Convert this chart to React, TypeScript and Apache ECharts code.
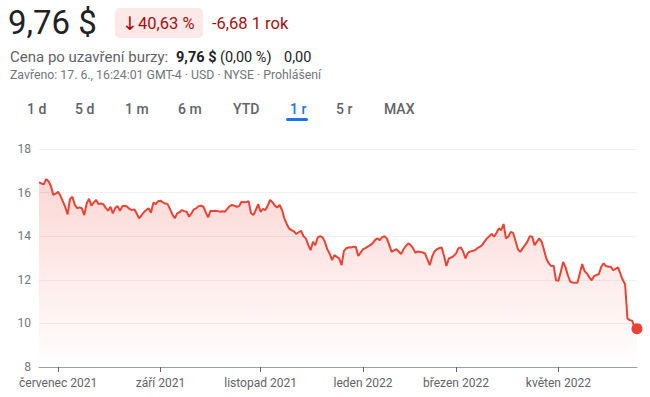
import React, { useEffect, useRef } from "react";
import * as echarts from "echarts";

// Daily closing prices, one array per month (trading days)
const jun2021 = [16.47, 16.42, 16.38, 16.62, 16.52, 16.3, 15.89, 15.95];
const jul2021 = [16.04, 15.85, 15.6, 15.35, 15.0, 15.7, 15.81, 15.45, 15.28, 15.32, 15.28, 14.97, 15.5, 15.72, 15.4, 15.55, 15.66, 15.47, 15.5, 15.47, 15.3];
const aug2021 = [15.17, 15.35, 15.05, 15.3, 15.38, 15.17, 15.38, 15.4, 15.35, 15.25, 15.2, 15.23, 15.05, 14.82, 14.95, 15.1, 15.2, 15.28, 15.08, 15.54, 15.47, 15.6];
const sep2021 = [15.63, 15.55, 15.5, 15.47, 15.25, 15.0, 14.82, 15.05, 15.1, 15.2, 15.15, 15.12, 14.89, 15.05, 15.23, 15.28, 15.38, 15.4, 15.35, 15.1, 14.86];
const oct2021 = [15.17, 15.15, 15.17, 15.15, 15.12, 15.14, 15.12, 15.25, 15.38, 15.43, 15.4, 15.35, 15.38, 15.58, 15.56, 15.57, 15.6, 15.05, 14.97, 15.2, 15.47];
const nov2021 = [15.12, 15.25, 15.2, 15.4, 15.66, 15.56, 15.4, 15.32, 15.43, 15.2, 14.82, 14.55, 14.35, 14.28, 14.22, 14.1, 14.18, 14.25, 14.0, 13.9, 13.6];
const dec2021 = [13.36, 13.74, 13.59, 13.95, 14.0, 13.95, 13.74, 13.4, 13.21, 12.9, 13.13, 13.05, 12.98, 12.67, 13.33, 13.45, 13.49, 13.48, 13.52, 13.51, 13.09, 13.25];
const jan2022 = [13.4, 13.45, 13.52, 13.59, 13.67, 13.82, 13.9, 13.82, 13.95, 14.0, 13.9, 13.6, 13.28, 13.35, 13.4, 13.3, 13.18, 13.4, 13.55, 13.67];
const feb2022 = [13.59, 13.45, 13.24, 13.3, 13.28, 13.25, 13.21, 12.95, 12.67, 13.06, 13.3, 13.4, 13.45, 13.49, 13.1, 12.63, 12.98, 13.02, 13.09];
const mar2022 = [13.2, 13.44, 13.49, 13.3, 12.98, 13.24, 13.3, 13.32, 13.36, 13.45, 13.51, 13.6, 13.75, 13.9, 14.0, 14.1, 13.98, 14.15, 14.36, 14.28, 14.56, 13.9, 13.98];
const apr2022 = [14.2, 14.15, 13.79, 13.4, 13.28, 13.44, 13.59, 13.75, 14.0, 13.98, 13.59, 13.75, 13.9, 13.74, 13.36, 12.95, 12.75, 12.63, 12.65, 11.98];
const may2022 = [11.95, 12.36, 12.82, 12.57, 12.2, 11.91, 11.88, 11.86, 11.86, 12.29, 12.72, 12.4, 12.29, 12.1, 11.98, 12.17, 12.22, 12.26, 12.6, 12.75, 12.63];
const jun2022 = [12.6, 12.6, 12.44, 12.5, 12.57, 12.29, 12.0, 11.8, 10.22, 10.15, 10.12, 9.8, 9.76];

const months: [string, number[]][] = [
  ["2021-06", jun2021], ["2021-07", jul2021], ["2021-08", aug2021], ["2021-09", sep2021],
  ["2021-10", oct2021], ["2021-11", nov2021], ["2021-12", dec2021], ["2022-01", jan2022],
  ["2022-02", feb2022], ["2022-03", mar2022], ["2022-04", apr2022], ["2022-05", may2022],
  ["2022-06", jun2022],
];

const tickLabels: Record<string, string> = {
  "2021-07": "červenec 2021",
  "2021-09": "září 2021",
  "2021-11": "listopad 2021",
  "2022-01": "leden 2022",
  "2022-03": "březen 2022",
  "2022-05": "květen 2022",
};

const yTicks = { min: 8, max: 18, interval: 2 };

const ranges = ["1 d", "5 d", "1 m", "6 m", "YTD", "1 r", "5 r", "MAX"];
const rangeX = [27, 75, 125, 178, 233, 290, 336, 384];

const FONT = "Roboto, 'Noto Sans', sans-serif";

export default function App() {
  const ref = useRef<HTMLDivElement>(null);
  useEffect(() => {
    if (!ref.current) return;
    const chart = echarts.init(ref.current, undefined, { renderer: "svg" });

    const categories: string[] = [];
    const values: number[] = [];
    months.forEach(([key, arr]) => {
      arr.forEach((v, k) => {
        categories.push(`${key}|${k}`);
        values.push(v);
      });
    });
    const isTick = (_i: number, val: string) => {
      const [key, k] = String(val).split("|");
      return k === "0" && tickLabels[key] !== undefined;
    };
    const lastIdx = values.length - 1;

    const graphics: any[] = [
      { type: "text", left: 8, top: 6, style: { text: "9,76 $", fontSize: 33, fontFamily: FONT, fill: "#202124" } },
      { type: "rect", shape: { x: 115, y: 8, width: 88, height: 30, r: 5 }, style: { fill: "#fce8e6" } },
      { type: "text", x: 122, y: 23, style: { text: "↓", fontSize: 19, fontFamily: "'DejaVu Sans', sans-serif", fill: "#a50e0e", verticalAlign: "middle" } },
      { type: "text", x: 138, y: 23, style: { text: "40,63 %", fontSize: 16.5, fontFamily: FONT, fill: "#a50e0e", verticalAlign: "middle" } },
      { type: "text", x: 212, y: 23, style: { text: "-6,68 1 rok", fontSize: 16.5, fontFamily: FONT, fill: "#a50e0e", verticalAlign: "middle" } },
      { type: "text", x: 10, y: 57, style: { text: "Cena po uzavření burzy:", fontSize: 15, fontFamily: FONT, fill: "#5f6368", verticalAlign: "middle" } },
      { type: "text", x: 176, y: 57, style: { text: "9,76 $", fontSize: 14.5, fontWeight: "bold", fontFamily: FONT, fill: "#202124", verticalAlign: "middle" } },
      { type: "text", x: 220, y: 57, style: { text: "(0,00 %)", fontSize: 14.5, fontFamily: FONT, fill: "#202124", verticalAlign: "middle" } },
      { type: "text", x: 284, y: 57, style: { text: "0,00", fontSize: 14.5, fontFamily: FONT, fill: "#202124", verticalAlign: "middle" } },
      { type: "text", x: 10, y: 75, style: { text: "Zavřeno: 17. 6., 16:24:01 GMT-4 · USD · NYSE · Prohlášení", fontSize: 12.3, fontFamily: FONT, fill: "#70757a", verticalAlign: "middle" } },
      { type: "rect", shape: { x: 286, y: 118, width: 22, height: 3, r: 1.5 }, style: { fill: "#1a73e8" } },
    ];
    ranges.forEach((r, i) => {
      graphics.push({
        type: "text", x: rangeX[i], y: 109,
        style: { text: r, fontSize: 14, fontWeight: 500, fontFamily: FONT, fill: r === "1 r" ? "#1a73e8" : "#5f6368", verticalAlign: "middle" },
      });
    });

    chart.setOption({
      animation: false,
      graphic: graphics,
      grid: { left: 39, right: 13, top: 149, bottom: 30 },
      xAxis: {
        type: "category",
        data: categories,
        boundaryGap: false,
        axisLine: { show: true, lineStyle: { color: "#9aa0a6", width: 1 } },
        axisTick: { show: true, interval: isTick, length: 5, lineStyle: { color: "#5f6368", width: 1 } },
        axisLabel: {
          interval: isTick,
          margin: 10,
          fontSize: 12,
          fontFamily: FONT,
          color: "#5f6368",
          formatter: (val: string) => tickLabels[String(val).split("|")[0]] || "",
        },
        splitLine: { show: false },
      },
      yAxis: {
        type: "value",
        min: yTicks.min,
        max: yTicks.max,
        interval: yTicks.interval,
        axisLine: { show: false },
        axisTick: { show: false },
        axisLabel: { fontSize: 12, fontFamily: FONT, color: "#70757a", margin: 8 },
        splitLine: { lineStyle: { color: "#eef0f1", width: 1 } },
      },
      series: [
        {
          type: "line",
          data: values,
          showSymbol: false,
          symbol: "none",
          lineStyle: { color: "#ea4335", width: 2 },
          areaStyle: {
            origin: "start",
            color: new echarts.graphic.LinearGradient(0, 0, 0, 1, [
              { offset: 0, color: "rgba(234,67,53,0.3)" },
              { offset: 1, color: "rgba(234,67,53,0.0)" },
            ]),
          },
        },
        {
          type: "scatter",
          data: [[categories[lastIdx], values[lastIdx]]],
          symbol: "circle",
          symbolSize: 11,
          itemStyle: { color: "#ea4335", opacity: 1 },
        },
      ],
    });
    return () => chart.dispose();
  }, []);

  return (
    <div
      ref={ref}
      style={{ position: "fixed", left: 0, top: 0, width: 650, height: 397, background: "#fff" }}
    />
  );
}
